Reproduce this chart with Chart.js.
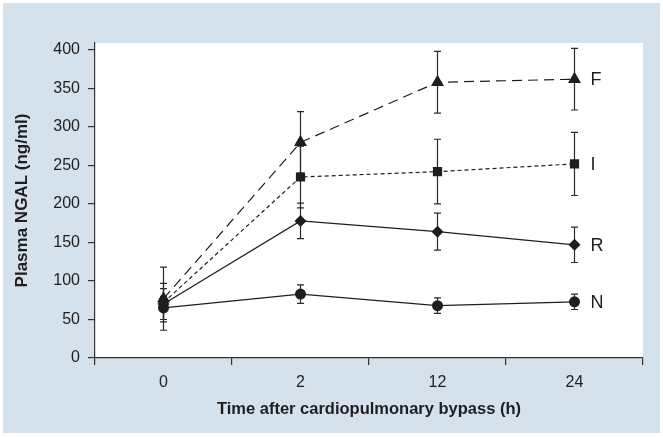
<!DOCTYPE html>
<html>
<head>
<meta charset="utf-8">
<script src="https://cdn.jsdelivr.net/npm/chart.js@4.4.0/dist/chart.umd.min.js"></script>
<style>
  html, body { margin: 0; padding: 0; background: #fff; }
  #panel { position: absolute; left: 3px; top: 3px; width: 657px; height: 430px; background: #d5e1eb; }
</style>
</head>
<body>
<div id="panel"><canvas id="chart" width="657" height="430"></canvas></div>
<script>
// Data
const hours = ['0', '2', '12', '24'];
const seriesNames = ['F', 'I', 'R', 'N'];

const fMean = [77, 280, 358, 362];
const fErr = [41, 40, 40, 40];
const iMean = [72, 235, 242, 252];
const iErr = [25, 40, 42, 41];
const rMean = [70, 178, 164, 147];
const rErr = [20, 23, 24, 23];
const nMean = [65, 83, 68, 73];
const nErr = [15, 12, 10, 10];

const yTicks = [0, 50, 100, 150, 200, 250, 300, 350, 400];

const ink = '#1e1e1e';
const font = "'Liberation Sans', Arial, sans-serif";

// white plotting area on the blue panel
const plotBackground = {
  id: 'plotBackground',
  beforeDraw(chart) {
    const a = chart.chartArea;
    const c = chart.ctx;
    c.save();
    c.fillStyle = '#ffffff';
    c.fillRect(a.left, a.top, a.right - a.left, a.bottom - a.top);
    c.restore();
  }
};

// vertical error bars with caps
const errorBars = {
  id: 'errorBars',
  beforeDatasetsDraw(chart) {
    const c = chart.ctx;
    const y = chart.scales.y;
    c.save();
    c.strokeStyle = '#2a2a2a';
    c.lineWidth = 1.2;
    chart.data.datasets.forEach((ds, i) => {
      const meta = chart.getDatasetMeta(i);
      meta.data.forEach((pt, j) => {
        const top = y.getPixelForValue(ds.data[j] + ds.errors[j]);
        const bot = y.getPixelForValue(ds.data[j] - ds.errors[j]);
        c.beginPath();
        c.moveTo(pt.x, top); c.lineTo(pt.x, bot);
        c.moveTo(pt.x - 3.5, top); c.lineTo(pt.x + 3.5, top);
        c.moveTo(pt.x - 3.5, bot); c.lineTo(pt.x + 3.5, bot);
        c.stroke();
      });
    });
    c.restore();
  }
};

// letters at the end of each line
const seriesLabels = {
  id: 'seriesLabels',
  afterDatasetsDraw(chart) {
    const c = chart.ctx;
    c.save();
    c.fillStyle = ink;
    c.font = '18px ' + font;
    c.textAlign = 'left';
    c.textBaseline = 'middle';
    chart.data.datasets.forEach((ds, i) => {
      const pts = chart.getDatasetMeta(i).data;
      const last = pts[pts.length - 1];
      c.fillText(seriesNames[i], last.x + 16, last.y + 1);
    });
    c.restore();
  }
};

function series(label, values, errors, style, radius, dash) {
  return {
    label: label,
    data: values,
    errors: errors,
    borderColor: ink,
    borderWidth: 1.2,
    borderDash: dash,
    backgroundColor: ink,
    pointStyle: style,
    pointRadius: radius,
    pointBorderWidth: 0,
    pointBackgroundColor: ink,
    tension: 0,
    fill: false
  };
}

const ctx = document.getElementById('chart').getContext('2d');
new Chart(ctx, {
  type: 'line',
  data: {
    labels: hours,
    datasets: [
      series('F', fMean, fErr, 'triangle', 7.5, [10, 6]),
      series('I', iMean, iErr, 'rect', 6.5, [4, 3]),
      series('R', rMean, rErr, 'rectRot', 6, []),
      series('N', nMean, nErr, 'circle', 5.5, [])
    ]
  },
  options: {
    responsive: false,
    animation: false,
    layout: { padding: { left: 0, right: 17, top: 40, bottom: 0 } },
    plugins: {
      legend: { display: false },
      tooltip: { enabled: false }
    },
    scales: {
      x: {
        offset: true,
        grid: { offset: true, drawOnChartArea: false, tickLength: 7, color: '#333', lineWidth: 1.2 },
        border: { color: '#333', width: 1.2 },
        ticks: { color: ink, font: { family: font, size: 16 }, padding: 8 },
        title: {
          display: true,
          text: 'Time after cardiopulmonary bypass (h)',
          color: ink,
          font: { family: font, size: 16.5, weight: 'bold' },
          padding: { top: 4, bottom: 14 }
        },
        afterFit(scale) { scale.height = 75; }
      },
      y: {
        min: 0,
        max: 409,
        afterBuildTicks(scale) { scale.ticks = yTicks.map(v => ({ value: v })); },
        grid: { drawOnChartArea: false, tickLength: 7, color: '#333', lineWidth: 1.2 },
        border: { color: '#333', width: 1.2 },
        ticks: { color: ink, font: { family: font, size: 16 }, padding: 8 },
        title: {
          display: true,
          text: 'Plasma NGAL (ng/ml)',
          color: ink,
          font: { family: font, size: 17, weight: 'bold' },
          padding: { top: 9, bottom: 0 }
        },
        afterFit(scale) { scale.width = 92; }
      }
    }
  },
  plugins: [plotBackground, errorBars, seriesLabels]
});
</script>
</body>
</html>
